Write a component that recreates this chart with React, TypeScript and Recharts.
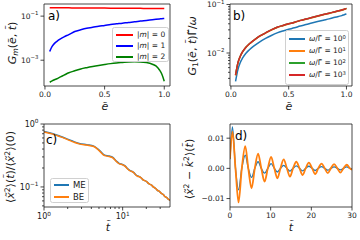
import React from 'react';
import { LineChart, Line, XAxis, YAxis } from 'recharts';

const FONT = '"DejaVu Sans", sans-serif';
const INK = '#1a1a1a';

// ---- panel a / b: energy axis
const eTilde = [0.04, 0.06, 0.08, 0.1, 0.13, 0.16, 0.2, 0.25, 0.3, 0.35, 0.4, 0.45, 0.5, 0.55, 0.6, 0.65, 0.7, 0.75, 0.8, 0.85, 0.9, 0.93, 0.96, 0.98, 1.0];
const gM0 = [0.24, 0.24, 0.239, 0.239, 0.238, 0.238, 0.237, 0.236, 0.235, 0.234, 0.233, 0.232, 0.231, 0.23, 0.229, 0.228, 0.227, 0.226, 0.225, 0.224, 0.223, 0.222, 0.221, 0.221, 0.22];
const gM1 = [0.0025, 0.0042, 0.0058, 0.0072, 0.0093, 0.0115, 0.0145, 0.02, 0.024, 0.028, 0.031, 0.035, 0.038, 0.042, 0.045, 0.048, 0.052, 0.055, 0.06, 0.064, 0.069, 0.072, 0.075, 0.077, 0.079];
const gM2 = [1.0e-4, 1.15e-4, 1.3e-4, 1.45e-4, 1.75e-4, 2.1e-4, 2.7e-4, 3.3e-4, 4.0e-4, 4.6e-4, 5.2e-4, 5.8e-4, 6.4e-4, 7.0e-4, 7.5e-4, 7.9e-4, 8.3e-4, 8.5e-4, 8.4e-4, 7.8e-4, 6.6e-4, 5.5e-4, 3.6e-4, 2.3e-4, 1.1e-4];

const g1w1 = [0.0026, 0.0045, 0.0063, 0.0078, 0.0099, 0.0117, 0.014, 0.017, 0.02, 0.023, 0.026, 0.0285, 0.0308, 0.033, 0.036, 0.0385, 0.0415, 0.0445, 0.0475, 0.0505, 0.0545, 0.0568, 0.059, 0.0615, 0.064];
const g1w10 = [0.00345, 0.0061, 0.0084, 0.0104, 0.0131, 0.0153, 0.0183, 0.0222, 0.0257, 0.0297, 0.0336, 0.0366, 0.0396, 0.0425, 0.0465, 0.0495, 0.0534, 0.0574, 0.0613, 0.0653, 0.0702, 0.0732, 0.0762, 0.0791, 0.0821];
const g1w100 = [0.0035, 0.0062, 0.0085, 0.0105, 0.0132, 0.0155, 0.0185, 0.0225, 0.026, 0.03, 0.034, 0.037, 0.04, 0.043, 0.047, 0.05, 0.054, 0.058, 0.062, 0.066, 0.071, 0.074, 0.077, 0.08, 0.083];
const g1w1000 = [0.0035, 0.0062, 0.0085, 0.0105, 0.0132, 0.0155, 0.0185, 0.0225, 0.026, 0.03, 0.034, 0.037, 0.04, 0.043, 0.047, 0.05, 0.054, 0.058, 0.062, 0.066, 0.071, 0.074, 0.077, 0.08, 0.083];

// ---- panel c: normalised width vs time (log-log)
const tC = [1, 1.3, 1.6, 2.0, 2.4, 2.8, 3.5, 4.3, 5.1, 5.9, 6.7, 7.5, 8.3, 9.1, 9.9, 10.7, 11.5, 12.3, 13.1, 13.9, 14.7, 15.5, 16.3, 17.1, 17.9, 18.7, 19.5, 20.3, 21.1, 21.9, 22.7, 23.5, 24.3, 25.1, 25.9, 26.7, 27.5, 28.3, 29.1, 29.9, 30.7, 31.5, 32.3, 33.1, 33.9, 34.7, 35.5, 36.3, 37.1, 37.9, 38.7, 39.5, 40];
const meC = [0.76, 0.7, 0.64, 0.575, 0.525, 0.49, 0.468, 0.445, 0.378, 0.32, 0.31, 0.294, 0.258, 0.235, 0.228, 0.216, 0.196, 0.183, 0.177, 0.169, 0.156, 0.149, 0.146, 0.14, 0.132, 0.127, 0.125, 0.121, 0.115, 0.111, 0.109, 0.106, 0.101, 0.098, 0.096, 0.093, 0.089, 0.087, 0.086, 0.083, 0.08, 0.078, 0.077, 0.075, 0.072, 0.07, 0.069, 0.068, 0.066, 0.064, 0.063, 0.062, 0.061];
const beC = [0.75, 0.69, 0.63, 0.565, 0.515, 0.483, 0.462, 0.44, 0.37, 0.315, 0.305, 0.29, 0.255, 0.232, 0.226, 0.214, 0.194, 0.181, 0.176, 0.168, 0.155, 0.148, 0.145, 0.14, 0.132, 0.127, 0.125, 0.121, 0.115, 0.111, 0.109, 0.106, 0.101, 0.098, 0.096, 0.093, 0.089, 0.087, 0.086, 0.083, 0.08, 0.078, 0.077, 0.075, 0.072, 0.07, 0.069, 0.068, 0.066, 0.064, 0.063, 0.062, 0.061];

// ---- panel d: <x^2 - k^2>(t)
const tD = [0, 0.6, 1.35, 2.1, 2.9, 3.75, 4.5, 5.3, 6.1, 6.9, 7.7, 8.5, 9.3, 10.1, 10.9, 11.65, 12.4, 13.2, 14.0, 14.75, 15.5, 16.3, 17.1, 17.85, 18.6, 19.4, 20.2, 20.95, 21.7, 22.5, 23.3, 24.05, 24.8, 25.6, 26.4, 27.15, 27.9, 28.7, 29.5, 30];
const meD = [0.003, 0.0137, 0, -0.0071, 0, 0.0044, 0, -0.003, 0, 0.0022, 0, -0.0016, 0, 0.0016, 0, -0.0012, 0, 0.001, 0, -0.0009, 0, 0.0008, 0, -0.0008, 0, 0.0007, 0, -0.0007, 0, 0.0006, 0, -0.0006, 0, 0.0005, 0, -0.0005, 0, 0.0005, 0, -0.0002];
const beD = [0.0033, 0.0122, 0, -0.0113, 0, 0.0074, 0, -0.0066, 0, 0.0049, 0, -0.0044, 0, 0.0038, 0, -0.0033, 0, 0.003, 0, -0.0027, 0, 0.0022, 0, -0.0022, 0, 0.0019, 0, -0.0019, 0, 0.0016, 0, -0.0016, 0, 0.0014, 0, -0.0014, 0, 0.0012, 0, -0.0005];

const aRows = eTilde.map((e, i) => ({ e, m0: gM0[i], m1: gM1[i], m2: gM2[i] }));
const bRows = eTilde.map((e, i) => ({ e, w1: g1w1[i], w10: g1w10[i], w100: g1w100[i], w1000: g1w1000[i] }));
const cRows = tC.map((t, i) => ({ t, me: meC[i], be: beC[i] }));
const dRows = tD.map((t, i) => ({ t, me: meD[i], be: beD[i] }));

const frame = { stroke: INK, strokeWidth: 0.8 };
const minus = (s: string) => s.replace('-', '\u2212');

const pow10 = (v: number) => {
  const e = Math.round(Math.log10(v));
  return [
    <tspan key="b">10</tspan>,
    <tspan key="e" dy={-3.5} fontSize="0.72em">{minus(String(e))}</tspan>,
  ];
};
const fix1 = (v: number) => v.toFixed(1);
const fix2 = (v: number) => minus(v.toFixed(2));
const int = (v: number) => String(v);

const isMajor = (majors: number[], v: number) => majors.some((m) => Math.abs(m - v) < 1e-12);

// axes are 1px wide/high, so tick x/y sits on the spine
const yTick = (majors: number[], fmt: (v: number) => any, fs = 7.5) => (props: any) => {
  const { x, y, payload } = props;
  const major = isMajor(majors, payload.value);
  return (
    <g>
      <line x1={x} x2={x - (major ? 3.5 : 2)} y1={y} y2={y} stroke={INK} strokeWidth={0.8} />
      {major && (
        <text x={x - 5.5} y={y} dy="0.35em" textAnchor="end" fontSize={fs} fontFamily={FONT} fill={INK}>
          {fmt(payload.value)}
        </text>
      )}
    </g>
  );
};

const xTick = (majors: number[], fmt: (v: number) => any, fs = 7.5, drop = 0) => (props: any) => {
  const { x, y, payload } = props;
  const major = isMajor(majors, payload.value);
  return (
    <g>
      <line x1={x} x2={x} y1={y} y2={y + (major ? 3.5 : 2)} stroke={INK} strokeWidth={0.8} />
      {major && (
        <text x={x} y={y + 4.5 + fs * 0.8 + drop} textAnchor="middle" fontSize={fs} fontFamily={FONT} fill={INK}>
          {fmt(payload.value)}
        </text>
      )}
    </g>
  );
};

const axisBase = { tickSize: 0, tickMargin: 0, tickLine: false, interval: 0 as const, axisLine: frame };

const Sup = ({ children }: any) => (
  <span style={{ fontSize: '0.7em', position: 'relative', top: '-0.5em' }}>{children}</span>
);
const Sub = ({ children }: any) => (
  <span style={{ fontSize: '0.7em', position: 'relative', top: '0.3em' }}>{children}</span>
);
const I = ({ children }: any) => <span style={{ fontStyle: 'italic' }}>{children}</span>;

function Text({ x, y, fs, rotate, children }: any) {
  return (
    <div
      style={{
        position: 'absolute',
        left: x,
        top: y,
        transform: `translate(-50%, -50%)${rotate ? ' rotate(-90deg)' : ''}`,
        fontSize: fs,
        lineHeight: 1,
        whiteSpace: 'nowrap',
        color: INK,
      }}
    >
      {children}
    </div>
  );
}

function LegendBox({ left, top, width, height, rowH, padTop, lineW, fs, items }: any) {
  return (
    <div
      style={{
        position: 'absolute',
        left,
        top,
        width,
        height,
        boxSizing: 'border-box',
        background: 'rgba(255,255,255,0.8)',
        border: '1px solid #d0d0d0',
        borderRadius: 2.5,
        paddingTop: padTop,
      }}
    >
      {items.map((it: any, i: number) => (
        <div key={i} style={{ display: 'flex', alignItems: 'center', height: rowH, paddingLeft: 3 }}>
          <span style={{ width: lineW, height: 2, backgroundColor: it.color, marginRight: 4, flex: 'none' }} />
          <span style={{ fontSize: fs, lineHeight: 1, whiteSpace: 'nowrap', color: INK }}>{it.label}</span>
        </div>
      ))}
    </div>
  );
}

const layer: React.CSSProperties = { position: 'absolute', left: 0, top: 0 };
const e = <I>{'e\u0303'}</I>;
const t = <I>{'t\u0303'}</I>;
const x2 = <><I>{'x\u0303'}</I><Sup>2</Sup></>;

export default function App() {
  return (
    <div style={{ position: 'absolute', left: 0, top: 0, width: 360, height: 240, background: '#fff', fontFamily: FONT, overflow: 'hidden' }}>
      {/* a) */}
      <div style={layer}>
        <LineChart width={360} height={240} data={aRows} margin={{ top: 3, left: 43, right: 189, bottom: 153 }}>
          <XAxis dataKey="e" type="number" domain={[-0.008, 1.048]} allowDataOverflow ticks={[0, 0.5, 1]} height={1} {...axisBase} tick={xTick([0, 0.5, 1], fix1)} />
          <YAxis type="number" scale="log" domain={[6.76e-5, 0.355]} allowDataOverflow ticks={[0.001, 0.1]} width={1} {...axisBase} tick={yTick([0.001, 0.1], pow10)} />
          <XAxis xAxisId="top" orientation="top" height={1} tick={false} tickLine={false} axisLine={frame} />
          <YAxis yAxisId="right" orientation="right" width={1} tick={false} tickLine={false} axisLine={frame} />
          <Line dataKey="m0" stroke="#ff0000" strokeWidth={1.5} dot={false} type="monotone" isAnimationActive={false} />
          <Line dataKey="m1" stroke="#0000ff" strokeWidth={1.5} dot={false} type="monotone" isAnimationActive={false} />
          <Line dataKey="m2" stroke="#008000" strokeWidth={1.5} dot={false} type="monotone" isAnimationActive={false} />
        </LineChart>
      </div>
      {/* b) */}
      <div style={layer}>
        <LineChart width={360} height={240} data={bRows} margin={{ top: 3, left: 229, right: 7, bottom: 153 }}>
          <XAxis dataKey="e" type="number" domain={[-0.008, 1.048]} allowDataOverflow ticks={[0, 0.5, 1]} height={1} {...axisBase} tick={xTick([0, 0.5, 1], fix1)} />
          <YAxis
            type="number"
            scale="log"
            domain={[0.00209, 0.1023]}
            allowDataOverflow
            ticks={[0.003, 0.004, 0.005, 0.006, 0.007, 0.008, 0.009, 0.01, 0.02, 0.03, 0.04, 0.05, 0.06, 0.07, 0.08, 0.09, 0.1]}
            width={1}
            {...axisBase}
            tick={yTick([0.01, 0.1], pow10)}
          />
          <XAxis xAxisId="top" orientation="top" height={1} tick={false} tickLine={false} axisLine={frame} />
          <YAxis yAxisId="right" orientation="right" width={1} tick={false} tickLine={false} axisLine={frame} />
          <Line dataKey="w1" stroke="#1f77b4" strokeWidth={1.5} dot={false} type="monotone" isAnimationActive={false} />
          <Line dataKey="w10" stroke="#ff7f0e" strokeWidth={1.5} dot={false} type="monotone" isAnimationActive={false} />
          <Line dataKey="w100" stroke="#2ca02c" strokeWidth={1.5} dot={false} type="monotone" isAnimationActive={false} />
          <Line dataKey="w1000" stroke="#d62728" strokeWidth={1.5} dot={false} type="monotone" isAnimationActive={false} />
        </LineChart>
      </div>
      {/* c) */}
      <div style={layer}>
        <LineChart width={360} height={240} data={cRows} margin={{ top: 123, left: 43, right: 189, bottom: 32 }}>
          <XAxis
            dataKey="t"
            type="number"
            scale="log"
            domain={[1, 40]}
            allowDataOverflow
            ticks={[1, 2, 3, 4, 5, 6, 7, 8, 9, 10, 20, 30]}
            height={1}
            {...axisBase}
            tick={xTick([1, 10], pow10, 8, 1.5)}
          />
          <YAxis
            type="number"
            scale="log"
            domain={[0.048, 1]}
            allowDataOverflow
            ticks={[0.05, 0.06, 0.07, 0.08, 0.09, 0.1, 0.2, 0.3, 0.4, 0.5, 0.6, 0.7, 0.8, 0.9, 1]}
            width={1}
            {...axisBase}
            tick={yTick([0.1, 1], pow10, 8)}
          />
          <XAxis xAxisId="top" orientation="top" height={1} tick={false} tickLine={false} axisLine={frame} />
          <YAxis yAxisId="right" orientation="right" width={1} tick={false} tickLine={false} axisLine={frame} />
          <Line dataKey="me" stroke="#1f77b4" strokeWidth={1.5} dot={false} type="monotone" isAnimationActive={false} />
          <Line dataKey="be" stroke="#ff7f0e" strokeWidth={1.5} dot={false} type="monotone" isAnimationActive={false} />
        </LineChart>
      </div>
      {/* d) */}
      <div style={layer}>
        <LineChart width={360} height={240} data={dRows} margin={{ top: 123, left: 229, right: 7, bottom: 32 }}>
          <XAxis dataKey="t" type="number" domain={[0, 30]} allowDataOverflow ticks={[0, 10, 20, 30]} height={1} {...axisBase} tick={xTick([0, 10, 20, 30], int)} />
          <YAxis type="number" domain={[-0.0128, 0.0147]} allowDataOverflow ticks={[-0.01, 0, 0.01]} width={1} {...axisBase} tick={yTick([-0.01, 0, 0.01], fix2)} />
          <XAxis xAxisId="top" orientation="top" height={1} tick={false} tickLine={false} axisLine={frame} />
          <YAxis yAxisId="right" orientation="right" width={1} tick={false} tickLine={false} axisLine={frame} />
          <Line dataKey="me" stroke="#1f77b4" strokeWidth={1.3} dot={false} type="monotone" isAnimationActive={false} />
          <Line dataKey="be" stroke="#ff7f0e" strokeWidth={1.8} dot={false} type="monotone" isAnimationActive={false} />
        </LineChart>
      </div>

      {/* panel letters */}
      <div style={{ position: 'absolute', left: 48, top: 10, fontSize: 12, lineHeight: 1 }}>a)</div>
      <div style={{ position: 'absolute', left: 233, top: 10, fontSize: 12, lineHeight: 1 }}>b)</div>
      <div style={{ position: 'absolute', left: 46, top: 134, fontSize: 12, lineHeight: 1 }}>c)</div>
      <div style={{ position: 'absolute', left: 235, top: 130, fontSize: 12, lineHeight: 1 }}>d)</div>

      {/* axis labels */}
      <Text x={12} y={43} fs={11} rotate>
        <I>G</I><Sub><I>m</I></Sub>({e}, {t})
      </Text>
      <Text x={192} y={46} fs={11} rotate>
        <I>G</I><Sub>1</Sub>({e}, {t}){'\u0393\u0303'}/<I>ω</I>
      </Text>
      <Text x={10} y={167} fs={11} rotate>
        ⟨{x2}⟩({t})/⟨{x2}⟩(0)
      </Text>
      <Text x={189} y={169} fs={11} rotate>
        ⟨{x2} − <I>{'k\u0303'}</I><Sup>2</Sup>⟩({t})
      </Text>
      <Text x={105} y={106} fs={11}>{e}</Text>
      <Text x={289} y={106} fs={11}>{e}</Text>
      <Text x={108} y={227} fs={11}>{t}</Text>
      <Text x={291} y={227} fs={11}>{t}</Text>

      {/* legends */}
      <LegendBox
        left={112}
        top={27}
        width={57}
        height={35}
        rowH={11}
        padTop={1}
        lineW={17}
        fs={7.5}
        items={[
          { color: '#ff0000', label: <>|<I>m</I>| = 0</> },
          { color: '#0000ff', label: <>|<I>m</I>| = 1</> },
          { color: '#008000', label: <>|<I>m</I>| = 2</> },
        ]}
      />
      <LegendBox
        left={285}
        top={30}
        width={64}
        height={55}
        rowH={12}
        padTop={2}
        lineW={16}
        fs={7.5}
        items={[
          { color: '#1f77b4', label: <><I>ω</I>/{'\u0393\u0303'} = 10<Sup>0</Sup></> },
          { color: '#ff7f0e', label: <><I>ω</I>/{'\u0393\u0303'} = 10<Sup>1</Sup></> },
          { color: '#2ca02c', label: <><I>ω</I>/{'\u0393\u0303'} = 10<Sup>2</Sup></> },
          { color: '#d62728', label: <><I>ω</I>/{'\u0393\u0303'} = 10<Sup>3</Sup></> },
        ]}
      />
      <LegendBox
        left={50}
        top={178}
        width={39}
        height={25}
        rowH={12}
        padTop={0}
        lineW={15}
        fs={8.5}
        items={[
          { color: '#1f77b4', label: 'ME' },
          { color: '#ff7f0e', label: 'BE' },
        ]}
      />
    </div>
  );
}
